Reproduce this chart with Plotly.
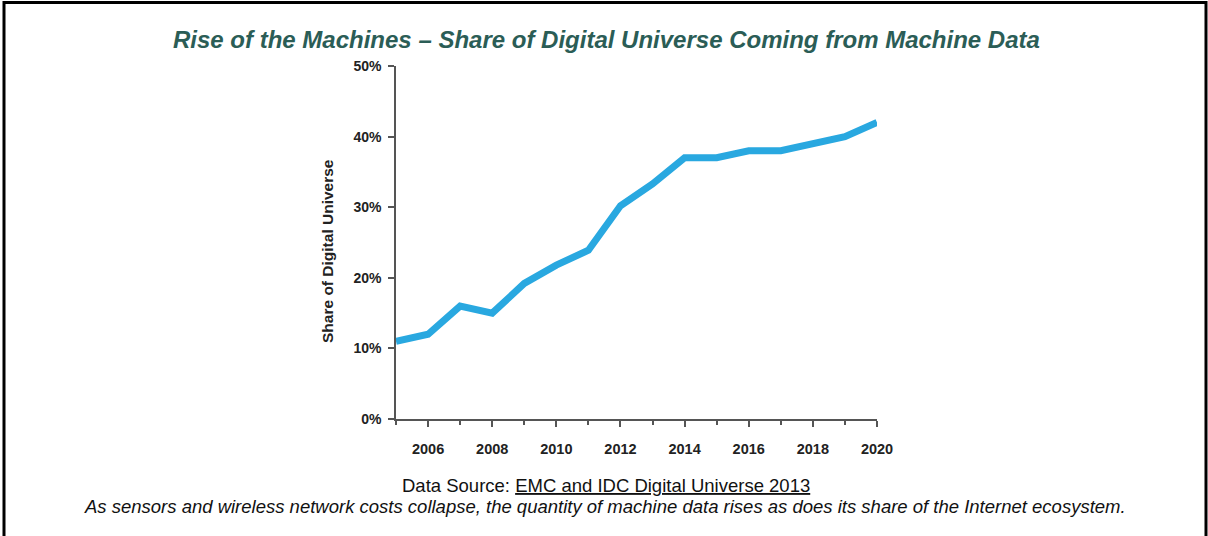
import plotly.graph_objects as go

years = list(range(2005, 2021))
share = [11, 12, 16, 15, 19.2, 21.8, 23.9, 30.2, 33.3, 37, 37, 38, 38, 39, 40, 42]

title_text = "Rise of the Machines \u2013 Share of Digital Universe Coming from Machine Data"
ytitle_text = "Share of Digital Universe"
source_text = "Data Source: <u>EMC and IDC Digital Universe 2013</u>"
caption_text = ("As sensors and wireless network costs collapse, the quantity of machine data "
                "rises as does its share of the Internet ecosystem.")

FONT = "Liberation Sans, Arial, sans-serif"
W, H = 1208, 536
L, R, T, B = 396, 331, 66, 117
pw, ph = W - L - R, H - T - B


def px(x):
    return (x - L) / pw


def py(y):
    return (H - B - y) / ph


fig = go.Figure()
fig.add_trace(go.Scatter(x=years, y=share, mode="lines",
                         line=dict(color="#29a8e0", width=7),
                         hoverinfo="skip", showlegend=False))

axis_col = "#555555"
fig.update_layout(
    width=W, height=H,
    margin=dict(l=L, r=R, t=T, b=B),
    paper_bgcolor="white", plot_bgcolor="white",
    font=dict(family=FONT, color="#222222"),
    title=dict(text="<b><i>" + title_text + "</i></b>",
               font=dict(family=FONT, size=24, color="#2b5d56"),
               xref="container", x=0.502, y=1 - 40 / H,
               xanchor="center", yanchor="middle"),
    xaxis=dict(range=[2005, 2020], tickmode="linear", tick0=2006, dtick=2,
               showgrid=False, zeroline=False, showline=True,
               linecolor=axis_col, linewidth=1.5,
               ticks="outside", ticklen=6, tickwidth=1.5, tickcolor=axis_col,
               ticklabelstandoff=10,
               tickfont=dict(size=14.5, color="#222222", weight="bold"),
               minor=dict(ticks="outside", tick0=2005, dtick=1, ticklen=4,
                          tickwidth=1.5, tickcolor=axis_col, showgrid=False)),
    yaxis=dict(range=[0, 50], tickmode="linear", tick0=0, dtick=10,
               ticksuffix="%", showgrid=False, zeroline=False, showline=True,
               linecolor=axis_col, linewidth=1.5,
               ticks="outside", ticklen=6, tickwidth=1.5, tickcolor=axis_col,
               ticklabelstandoff=4,
               tickfont=dict(size=14, color="#222222", weight="bold")),
)

# y title sits a little below the middle of the axis in the original
fig.add_annotation(text="<b>" + ytitle_text + "</b>", xref="paper", yref="paper",
                   x=px(327), y=py(251), showarrow=False, textangle=-90,
                   xanchor="center", yanchor="middle",
                   font=dict(family=FONT, size=15.5, color="#222222"))
fig.add_annotation(text=source_text, xref="paper", yref="paper",
                   x=px(606), y=py(485), showarrow=False,
                   xanchor="center", yanchor="middle",
                   font=dict(family=FONT, size=18.5, color="#111111"))
fig.add_annotation(text="<i>" + caption_text + "</i>", xref="paper", yref="paper",
                   x=px(605), y=py(506), showarrow=False,
                   xanchor="center", yanchor="middle",
                   font=dict(family=FONT, size=18.5, color="#111111"))

# frame around the slide (no bottom edge)
fig.add_shape(type="path", xref="paper", yref="paper",
              path=f"M {px(4)} {py(545)} L {px(4)} {py(2.5)} L {px(1206)} {py(2.5)} L {px(1206)} {py(545)}",
              line=dict(color="black", width=3))

# drop the default body margin so the figure fills the window
fig.write_html("out.html", config={"displayModeBar": False},
               post_script="document.body.style.margin='0px';")
